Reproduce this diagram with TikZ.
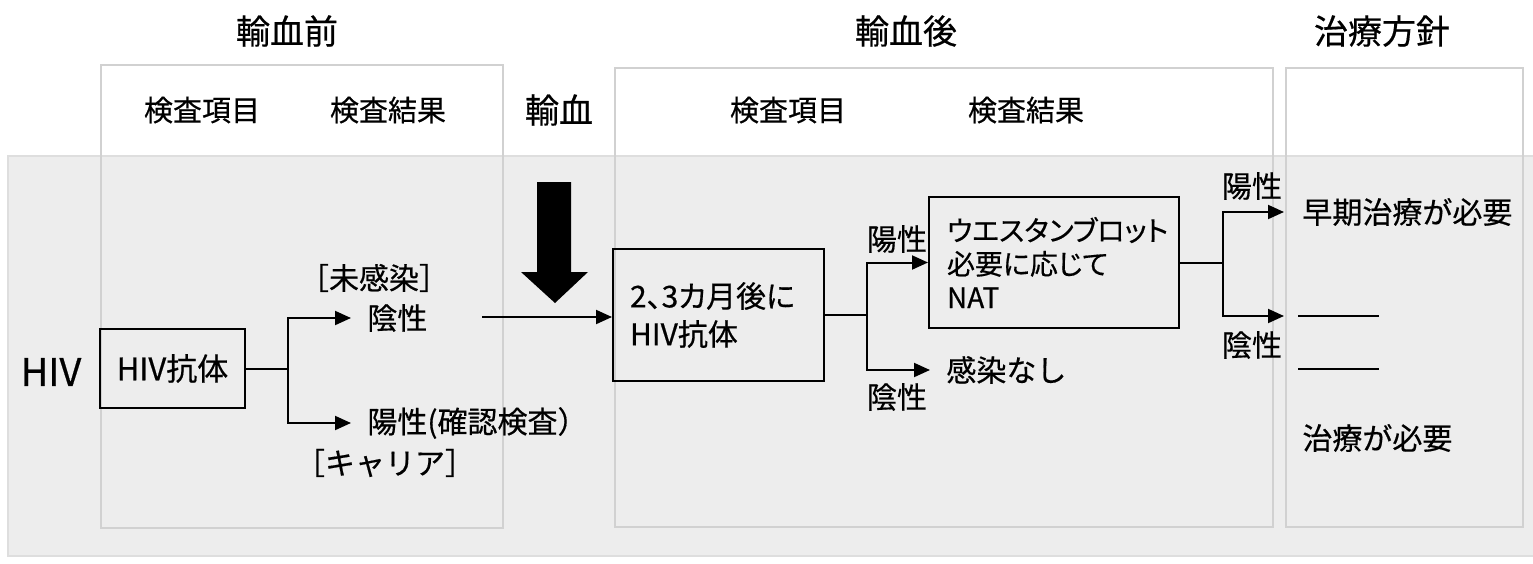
\documentclass[tikz,border=0pt]{standalone}
\usepackage{fontspec}
\setmainfont{Noto Sans CJK JP}[FakeBold=0.5]
\newfontfamily\jpp{Noto Sans CJK JP}[RawFeature=+palt, FakeBold=0.5]
\usetikzlibrary{arrows.meta}
\begin{document}
\begin{tikzpicture}[x=0.5pt,y=-0.5pt,
  colbox/.style={draw=black!18, line width=0.6pt},
  band/.style={fill=black!7, draw=black!13, line width=0.6pt},
  title/.style={font=\fontsize{17}{20}\selectfont, inner sep=0pt},
  head/.style={font=\fontsize{14.5}{17}\selectfont, inner sep=0pt},
  txt/.style={font=\fontsize{15}{18}\selectfont, inner sep=0pt},
  res/.style={txt, anchor=west, inner xsep=8pt},
  boxn/.style={draw, line width=1pt},
  conn/.style={line width=1pt},
  arr/.style={conn, -{Triangle[length=8pt,width=7pt]}},
  blank/.style={inner sep=0pt, minimum width=40pt, anchor=west},
]
\useasboundingbox (0,0) rectangle (1533,563);
\fill[white] (0,0) rectangle (1533,563);
% background band and column frames
\draw[band] (8,156) rectangle (1545,556);
\draw[colbox] (101,65) rectangle (503,528);
\draw[colbox] (615,68) rectangle (1273,527);
\draw[colbox] (1286,68) rectangle (1523,527);
% titles
\node[title] (t1) at (287,31) {輸血前};
\node[title] (t2) at (906,31) {輸血後};
\node[title] (t3) at (1382,31) {治療方針};
\node[head] (h1) at (202,110) {検査項目};
\node[head] (h2) at (388,110) {検査結果};
\node[title] (h3) at (559,110) {輸血};
\node[head] (h4) at (788,110) {検査項目};
\node[head] (h5) at (1026,110) {検査結果};
% transfusion arrow
\fill (537,182) -- (571,182) -- (571,272) -- (588,272) -- (555,303) -- (521,272) -- (537,272) -- cycle;
% pre-transfusion
\node[txt, font=\fontsize{19}{22}\selectfont] (hiv) at (51,372) {HIV};
\node[boxn, txt, font=\fontsize{15.5}{18}\selectfont, minimum width=72.5pt, minimum height=39.5pt] (ab1) at (172.5,368.5) {HIV抗体};
\coordinate (br1) at ([xshift=21pt]ab1.east);
\node[res] (neg1) at (351,318) {陰性};
\node[res] (pos1) at (351,423) {陽性(確認検査）};
\node[txt] (uninf) at (374,278) {［未感染］};
\node[txt] (carrier) at (385,463) {［キャリア］};
\draw[conn] (ab1.east) -- (br1);
\draw[arr] (br1) |- (neg1.west);
\draw[arr] (br1) |- (pos1.west);
% post-transfusion
\node[boxn, align=left, text width=88.5pt, inner xsep=8.5pt, minimum height=66pt,
  font=\fontsize{15}{19}\selectfont\jpp] (ab2) at (718.5,315) {2、3カ月後に\\HIV抗体};
\coordinate (tstart) at (482,317);
\draw[arr] (tstart) -- (tstart -| ab2.west);
\coordinate (br2) at ([xshift=21pt]ab2.east);
\node[boxn, align=left, text width=107pt, inner xsep=9pt, minimum height=65.5pt,
  font=\fontsize{14}{16.75}\selectfont\jpp] (wb) at (1054,262.5) {ウエスタンブロット\\必要に応じて\\NAT};
\node[res] (none) at (930,370) {感染なし};
\node[txt] (p2) at (897,239) {陽性};
\node[txt] (n2) at (897,397) {陰性};
\draw[conn] (ab2.east) -- (br2);
\draw[arr] (br2) |- (wb.west);
\draw[arr] (br2) |- (none.west);
% treatment
\coordinate (br3) at ([xshift=21.5pt]wb.east);
\node[res, inner xsep=9pt] (early) at (1284,212) {早期治療が必要};
\node[blank] (blank1) at (1298,316) {};
\node[blank] (blank2) at (1298,369) {};
\node[txt, anchor=west] (treat) at (1302,438) {治療が必要};
\node[txt] (p3) at (1252,186) {陽性};
\node[txt] (n3) at (1252,345) {陰性};
\draw[conn] (wb.east) -- (br3);
\draw[arr] (br3) |- (early.west);
\draw[arr, shorten >=7pt] (br3) |- (blank1.west);
\draw[conn] (blank1.west) -- (blank1.east);
\draw[conn] (blank2.west) -- (blank2.east);
\end{tikzpicture}
\end{document}
